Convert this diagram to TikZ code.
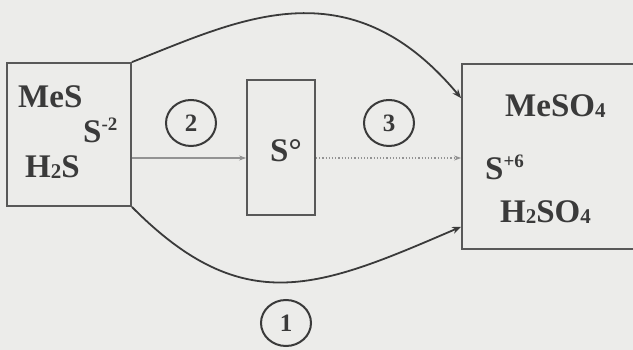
\documentclass[tikz,border=0pt]{standalone}
\usepackage{fontspec}
\setmainfont{Liberation Serif}
\usetikzlibrary{arrows.meta, shapes.geometric}
\definecolor{ink}{HTML}{3A3A3A}
\definecolor{paper}{HTML}{ECECEA}
\newcommand{\chsub}[1]{\raisebox{-1pt}{\fontsize{21}{21}\selectfont #1}}
\newcommand{\chsup}[1]{\raisebox{12pt}{\fontsize{19}{19}\selectfont #1}}

\begin{document}
\begin{tikzpicture}[
  x=1pt, y=-1pt,
  font=\fontsize{33}{36}\selectfont\bfseries,
  % box styles
  species/.style={draw=ink!85, line width=1.8pt, inner sep=0pt},
  formula/.style={anchor=base west, inner sep=0pt, text=ink},
  stepno/.style={draw=ink, ellipse, line width=2pt, minimum width=50pt,
                 minimum height=46pt, inner sep=0pt,
                 font=\fontsize{25}{25}\selectfont\bfseries, text=ink},
  route/.style={-{Stealth[length=9pt, width=7pt]}, line width=1.8pt, draw=ink},
  arrow/.style={-{Stealth[length=7pt, width=5pt]}, line width=1.2pt, draw=ink!55},
]

\fill[paper] (0,0) rectangle (633,350);
\useasboundingbox (0,0) rectangle (633,350);

% ---- BOXES ----
\node[species, minimum width=124pt, minimum height=143pt] (sulfide) at (69,134.5) {};
\node[species, minimum width=68pt, minimum height=135pt]  (sulfur)  at (281,147.5) {};
\node[species, minimum width=178pt, minimum height=185pt] (sulfate) at (551,156.5) {};

% ---- FORMULAS ----
\node[formula] (mes)   at (18,108)  {MeS};
\node[formula] (sm2)   at (83,143)  {S\chsup{-2}};
\node[formula] (h2s)   at (25,178)  {H\chsub{2}S};
\node[formula] (s0)    at (270,162) {S°};
\node[formula] (meso4) at (505,117) {MeSO\chsub{4}};
\node[formula] (sp6)   at (485,180) {S\chsup{+6}};
\node[formula] (h2so4) at (500,223) {H\chsub{2}SO\chsub{4}};

% ---- STEP NUMBERS ----
\node[stepno] (n2) at (191,123) {2};
\node[stepno] (n3) at (389,123) {3};
\node[stepno] (n1) at (286,323) {1};

% ---- CONNECTORS ----
\coordinate (lvl) at (0,158);
\draw[arrow] (sulfide.east |- lvl) -- (sulfur.west |- lvl);
\draw[arrow, dotted] (sulfur.east |- lvl) -- (sulfate.west |- lvl);
\draw[route] (sulfide.north east) .. controls (237,21) and (348,-37) .. (sulfate.147);
\draw[route] (sulfide.south east) .. controls (244,320) and (319,288) .. (sulfate.218);

\end{tikzpicture}
\end{document}
